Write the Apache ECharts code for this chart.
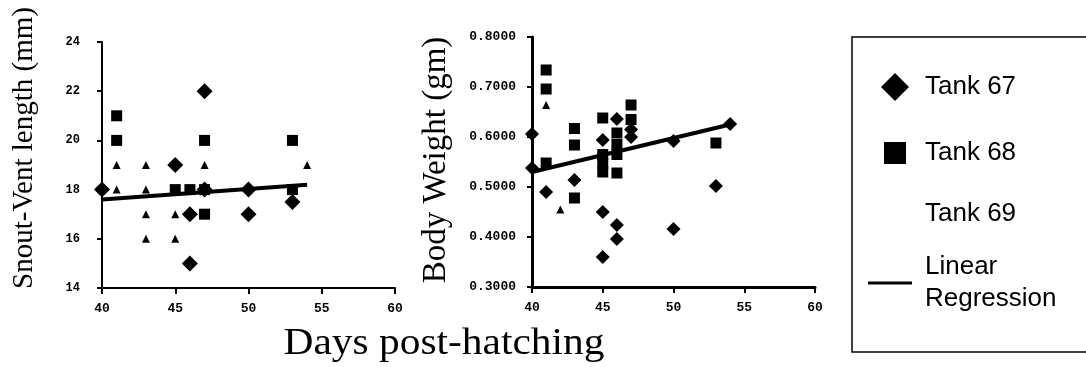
<!DOCTYPE html>
<html>
<head>
<meta charset="utf-8">
<script src="https://cdn.jsdelivr.net/npm/echarts@6/dist/echarts.min.js"></script>
<style>
html,body{margin:0;padding:0;background:#fff;}
#c{width:1086px;height:367px;}
</style>
</head>
<body>
<div id="c"></div>
<script>
// ---- Left panel: Snout-Vent length (mm) ----
const svlDays67 = [40, 45, 46, 46, 47, 47, 50, 50, 53];
const svl67     = [18, 19, 17, 15, 22, 18, 18, 17, 17.5];
const svlDays68 = [41, 41, 45, 46, 47, 47, 47, 53, 53];
const svl68     = [21, 20, 18, 18, 18, 20, 17, 20, 18];
const svlDays69 = [41, 43, 47, 54, 41, 43, 43, 45, 43, 45];
const svl69     = [19, 19, 19, 19, 18, 18, 17, 17, 16, 16];
const svlRegDays = [40, 54];
const svlReg     = [17.6, 18.2];

// ---- Right panel: Body Weight (gm) ----
const wDays67 = [40, 40, 41, 43, 45, 45, 45, 46, 46, 46, 47, 47, 50, 50, 53, 54];
const w67     = [0.606, 0.538, 0.49, 0.514, 0.594, 0.45, 0.36, 0.636, 0.424, 0.396, 0.615, 0.60, 0.592, 0.416, 0.502, 0.626];
const wDays68 = [41, 41, 41, 43, 43, 43, 45, 45, 45, 45, 46, 46, 46, 46, 47, 47, 53];
const w68     = [0.734, 0.696, 0.548, 0.617, 0.584, 0.478, 0.638, 0.565, 0.547, 0.53, 0.608, 0.585, 0.565, 0.528, 0.664, 0.635, 0.588];
const wDays69 = [41, 42];
const w69     = [0.664, 0.455];
const wRegDays = [40, 54];
const wReg     = [0.53, 0.625];

// ---- Axis ticks / labels ----
const dayTicks = {min: 40, max: 60, interval: 5};
const svlTicks = {min: 14, max: 24, interval: 2};
const wTicks   = {min: 0.3, max: 0.8, interval: 0.1};
const legendNames = ['Tank 67', 'Tank 68', 'Tank 69', 'Linear Regression'];
const xTitle = 'Days post-hatching';
const yTitleLeft = 'Snout-Vent length (mm)';
const yTitleRight = 'Body Weight (gm)';

const pair = (xs, ys) => xs.map((x, i) => [x, ys[i]]);

const chart = echarts.init(document.getElementById('c'), null, {renderer: 'canvas'});

const tickFont = {color: '#000', fontFamily: 'Liberation Mono', fontWeight: 'bold'};
const black = {color: '#000', opacity: 1};

function xAxis(gi, lw) {
  return {
    type: 'value', gridIndex: gi, min: dayTicks.min, max: dayTicks.max, interval: dayTicks.interval,
    axisLine: {show: true, onZero: false, lineStyle: {color: '#000', width: lw}},
    axisTick: {show: true, inside: false, length: 6, lineStyle: {color: '#000', width: 2}},
    axisLabel: Object.assign({margin: 14, fontSize: 13}, tickFont),
    splitLine: {show: false}
  };
}

const legendText = {color: '#000', fontFamily: 'Liberation Sans', fontSize: 26};

const option = {
  animation: false,
  backgroundColor: '#fff',
  grid: [
    {left: 102, top: 42, width: 293, height: 246},
    {left: 532, top: 37, width: 283, height: 250}
  ],
  xAxis: [xAxis(0, 2), xAxis(1, 3)],
  yAxis: [
    {
      type: 'value', gridIndex: 0, min: svlTicks.min, max: svlTicks.max, interval: svlTicks.interval,
      axisLine: {show: true, onZero: false, lineStyle: {color: '#000', width: 2}},
      axisTick: {show: true, length: 5, lineStyle: {color: '#000', width: 2}},
      axisLabel: Object.assign({margin: 22, fontSize: 12}, tickFont),
      splitLine: {show: false}
    },
    {
      type: 'value', gridIndex: 1, min: wTicks.min, max: wTicks.max, interval: wTicks.interval,
      axisLine: {show: true, onZero: false, lineStyle: {color: '#000', width: 3}},
      axisTick: {show: true, length: 5, lineStyle: {color: '#000', width: 2}},
      axisLabel: Object.assign({margin: 16, fontSize: 13, formatter: v => v.toFixed(4)}, tickFont),
      splitLine: {show: false}
    }
  ],
  legend: [
    {data: [{name: legendNames[0], icon: 'diamond', itemStyle: black}], left: 881, top: 73, padding: 0, itemWidth: 28, itemHeight: 28,
     selectedMode: false, textStyle: Object.assign({padding: [0, 0, 0, 11]}, legendText)},
    {data: [{name: legendNames[1], icon: 'rect', itemStyle: black}], left: 884, top: 140, padding: 0, itemWidth: 22, itemHeight: 22,
     selectedMode: false, textStyle: Object.assign({padding: [0, 0, 0, 14]}, legendText)},
    {data: [{name: legendNames[2], icon: 'rect', itemStyle: {opacity: 0}}], left: 884, top: 201, padding: 0, itemWidth: 22, itemHeight: 22,
     selectedMode: false, textStyle: Object.assign({padding: [0, 0, 0, 14]}, legendText)},
    {data: [{name: legendNames[3], icon: 'rect', itemStyle: black}], left: 868, top: 251, padding: 0, itemWidth: 44, itemHeight: 3,
     symbolKeepAspect: false, selectedMode: false,
     formatter: () => 'Linear\nRegression',
     textStyle: Object.assign({lineHeight: 32, padding: [0, 0, 0, 8]}, legendText)}
  ],
  graphic: [
    {type: 'rect', shape: {x: 852, y: 37, width: 260, height: 315}, style: {fill: 'none', stroke: '#000', lineWidth: 1.5}, silent: true},
    {type: 'text', x: 444, y: 344, scaleX: 1.09, style: {text: xTitle, font: '38px "Liberation Serif"', fill: '#000', textAlign: 'center', textVerticalAlign: 'middle'}},
    {type: 'text', x: 24, y: 148, rotation: Math.PI / 2, style: {text: yTitleLeft, font: '29px "Liberation Serif"', fill: '#000', textAlign: 'center', textVerticalAlign: 'middle'}},
    {type: 'text', x: 436, y: 160, rotation: Math.PI / 2, style: {text: yTitleRight, font: '33px "Liberation Serif"', fill: '#000', textAlign: 'center', textVerticalAlign: 'middle'}}
  ],
  series: [
    {name: 'Tank 69', type: 'scatter', xAxisIndex: 0, yAxisIndex: 0, symbol: 'triangle', symbolSize: 8,
     itemStyle: black, data: pair(svlDays69, svl69)},
    {name: 'Linear Regression', type: 'line', xAxisIndex: 0, yAxisIndex: 0, showSymbol: false, symbol: 'none',
     lineStyle: {color: '#000', width: 4}, itemStyle: black, data: pair(svlRegDays, svlReg)},
    {name: 'Tank 68', type: 'scatter', xAxisIndex: 0, yAxisIndex: 0, symbol: 'rect', symbolSize: 11,
     itemStyle: black, data: pair(svlDays68, svl68)},
    {name: 'Tank 67', type: 'scatter', xAxisIndex: 0, yAxisIndex: 0, symbol: 'diamond', symbolSize: 16,
     itemStyle: black, data: pair(svlDays67, svl67)},

    {name: 'Tank 69', type: 'scatter', xAxisIndex: 1, yAxisIndex: 1, symbol: 'triangle', symbolSize: 8,
     itemStyle: black, data: pair(wDays69, w69)},
    {name: 'Linear Regression', type: 'line', xAxisIndex: 1, yAxisIndex: 1, showSymbol: false, symbol: 'none',
     lineStyle: {color: '#000', width: 4}, itemStyle: black, data: pair(wRegDays, wReg)},
    {name: 'Tank 68', type: 'scatter', xAxisIndex: 1, yAxisIndex: 1, symbol: 'rect', symbolSize: 11,
     itemStyle: black, data: pair(wDays68, w68)},
    {name: 'Tank 67', type: 'scatter', xAxisIndex: 1, yAxisIndex: 1, symbol: 'diamond', symbolSize: 14,
     itemStyle: black, data: pair(wDays67, w67)}
  ]
};
chart.setOption(option);
</script>
</body>
</html>
